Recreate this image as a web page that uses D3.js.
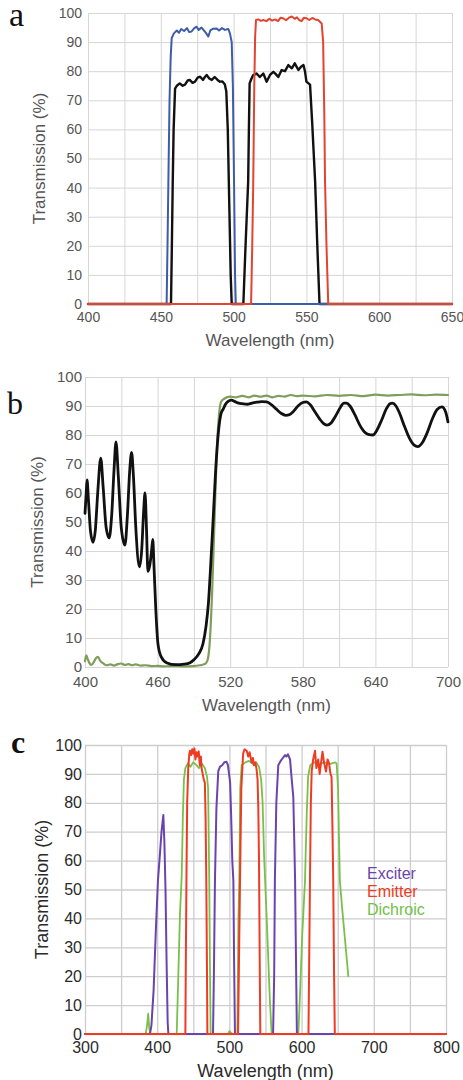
<!DOCTYPE html>
<html>
<head>
<meta charset="utf-8">
<script src="https://cdn.jsdelivr.net/npm/d3@7"></script>
<style>
  body { margin: 0; background: #fff; }
  svg { display: block; }
</style>
</head>
<body>
<div id="chart"></div>
<script>
// ── panel a: single-band filters (wavelength nm, transmission %) ─────────
const aTicksX = [400, 450, 500, 550, 600, 650]
const aGridX  = [400, 425, 450, 475, 500, 525, 550, 575, 600, 625, 650]
const ticksY  = [0, 10, 20, 30, 40, 50, 60, 70, 80, 90, 100]

const aBlue = [[400,0],[454,0],[454.6,20],[455.2,42],[456,70],[456.8,85],[457.5,91.4],[459,93],[461,94],[462.5,93.2],
  [464,94.5],[466,93.8],[468,94.8],[469.5,93.5],[471,93.6],[473,94.8],[474.6,95.3],[476,94.2],[478,95],[480,93.8],
  [481.5,92.8],[482.6,91.9],[484,94],[486,94.6],[488.4,94.7],[490,94],[492,94.8],[494,94.2],[496.4,94.5],[497.5,93],
  [498.7,90],[499.5,75],[500.3,42],[501,10],[501.5,0],[650,0]]
const aBlack = [[400,0],[457,0],[457.6,20],[458.2,42],[458.8,60],[459.8,74],[461,75],[463,75.8],[465,75],[466.6,75.4],
  [468.5,76.8],[470,77],[471.8,76],[473.5,76.4],[475.3,77.8],[477,78.1],[479,77],[480.3,78],[481.5,78.7],[483.3,77.5],
  [485,77],[487,78],[489,77],[490.6,76.4],[492.3,76.5],[494,75.4],[495,73],[496,60],[497,35],[498,10],[498.7,0],
  [506.7,0],[508.2,20],[510,42],[510.5,60],[511,75.8],[512.3,77.5],[513.5,78.7],[515.8,79.2],[518,78],[520.4,79.2],
  [522.7,76.4],[525,78.7],[527.3,79.8],[529,79],[530.7,78],[533,80.4],[535.3,80],[537.6,82.1],[540,81],[542,82.7],
  [544.5,80.4],[546.3,81.5],[548,82.1],[549,80],[550,76.4],[552.5,75.4],[554,62],[556,42],[557.5,20],[559,0],[650,0]]
const aRed = [[400,0],[512,0],[512.8,20],[513.5,42],[514.2,75],[514.8,92],[515.4,97.6],[517,97.8],[518.7,97.3],[520.4,97.6],
  [522.5,97.2],[524.5,98],[526.5,97.4],[528.5,97.8],[530.5,97.2],[532.3,98.4],[534,98.2],[536,97.5],[538,98.4],[540,98.8],
  [542,98],[543.5,98.5],[545,97.6],[546.7,97.2],[548.3,98.4],[550,98.2],[552,97.6],[554,98.3],[556,97.8],[558,97.6],
  [560.5,96.4],[561.5,90],[562.3,65],[562.8,42],[563.8,20],[565,0],[650,0]]

// ── panel b: long-pass dichroic ──────────────────────────────────────────
const bTicksX = [400, 460, 520, 580, 640, 700]
const bGridX  = [400, 430, 460, 490, 520, 550, 580, 610, 640, 670, 700]

const bBlack = [[400,53],[401,60],[401.7,64.5],[402.8,58],[404.5,47],[406.6,43],[408.5,47],[410.5,60],[413,72],[415,62],
  [417.5,48],[420,44.5],[422,52],[424,68],[425.6,77.6],[427.5,66],[430,48],[433,42],[435,52],[437,68],[438.5,74],
  [440,66],[442,48],[445,34.5],[446.8,40],[448.5,54],[449.6,60],[450.8,48],[452,33],[453.5,35],[455,40],[456,44],
  [457,35],[458.5,20],[460.3,8],[463,3.5],[467.8,1.4],[475,0.8],[482,1],[486.8,1.5],[490,2.5],[494,4.5],[497.5,8],
  [500,14],[502,22],[504,36],[505.8,50],[508,68],[510.5,82],[512.5,87.5],[514.3,89],[516,90.5],[518,91.5],[521,92],
  [524,91.5],[527,91],[530,90.8],[534,90.6],[538,91],[542,91.3],[546,91.5],[550,91.4],[554,90.5],[558,89],[562,87.5],
  [566,86.8],[569,87],[572,88],[576,90],[580,91.2],[583,91.4],[586,90.5],[590,88],[594,85.5],[597,84],[600,83.4],
  [603,84],[607,86.5],[611,89.5],[614,91],[616,91],[619,90],[623,87],[627,83.5],[631,81],[634,80.2],[638,80],
  [641,81.5],[645,85],[649,89],[652,90.8],[654,91],[657,90],[660,87.5],[664,83],[668,79],[672,76.5],[675,76],
  [679,77.5],[683,81],[687,85.5],[691,88.8],[695,89.7],[698,88],[700,84.5]]
const bGreen = [[400,2],[401,4],[402,3],[403.5,1.5],[405,0.7],[407,1.5],[409,3],[410.7,3.5],[412.5,2.2],[415,1.3],
  [418,0.6],[421,0.9],[424,0.5],[427,1],[430,1.2],[433,0.7],[436,1],[439,0.6],[442,0.9],[446,0.5],[450,0.6],
  [455,0.3],[460,0.4],[465,0.2],[470,0.3],[480,0.2],[490,0.3],[495,0.6],[499,1],[501,2],[503,8],[505,25],[507,50],
  [509,75],[511,88],[512.5,91.5],[515,92.5],[520,93.2],[525,93],[530,93.5],[535,93],[540,93.6],[545,93.2],[550,93.6],
  [555,93],[560,93.5],[565,93.2],[570,93.8],[575,93.4],[580,93.6],[590,93.3],[600,93.8],[610,93.5],[620,93.8],
  [630,93.4],[640,93.9],[650,93.6],[660,93.8],[670,94],[680,93.7],[690,93.9],[700,93.8]]

// ── panel c: multi-band set ──────────────────────────────────────────────
const cTicksX = [300, 400, 500, 600, 700, 800]
const cGridX  = [300, 350, 400, 450, 500, 550, 600, 650, 700, 750, 800]
const cLegend = ['Exciter', 'Emitter', 'Dichroic']

const cExciter = [[300,0],[390,0],[392,3],[395,15],[398,35],[401,53],[404,63],[406,70],[408.5,75.8],[410,66],[411.5,50],
  [413,25],[414.5,4],[415.5,0],[477.3,0],[478.5,20],[480,53],[482,78],[484.6,91],[487,92.5],[490,93],[493,94],
  [496,94.2],[498,93],[500,89],[501,87],[502.5,75],[504,60],[505.5,53],[506.5,25],[507.7,0],[560.5,0],[562,20],
  [563,53],[565,80],[567.7,93],[571,94.5],[574,95.5],[577,96.5],[579,96],[581,96.8],[584,95],[586,89],[588.5,82],
  [590,65],[591,53],[592.5,20],[593.5,0],[800,0]]
const cEmitter = [[300,0],[439,0],[439.8,30],[440.5,53],[441.5,80],[443,92],[444.5,97],[445.4,98],[447,96.5],[448.5,98.5],
  [450,97],[451.5,98.8],[453,95],[454.5,97.5],[456,96],[457.5,97.8],[459,93],[460.5,96],[461.5,92],[463,90],
  [464.5,88],[466,87],[467,75],[468,53],[469,20],[469.5,0],[512,0],[513.5,30],[514.7,53],[516.5,85],[519,97],
  [521,98.5],[524,98],[526,96],[528,97.5],[530.7,94],[532.5,95.5],[534,93],[536,94],[537.7,91.5],[539,88],
  [540,78.6],[541,60],[542,25],[542.8,0],[609.5,0],[610.5,25],[611.6,53],[612.8,80],[614,91],[616,95],[618.6,98],
  [620.5,92],[623,95],[625,90],[627,94],[629,97.7],[631,94],[633.8,90.8],[636,95],[638,93.7],[640,90],[641.5,89],
  [642.8,70],[643.8,53],[645,20],[646,0],[800,0]]
const cDichroic = [[300,0],[384,0],[386,3],[387.5,7],[389,2],[390.5,0],[427,0],[429,18],[431.6,42],[434,55],[435.5,75],
  [437,88],[439,92],[442.6,93.7],[446,92.5],[450,94],[454.6,93],[458,92],[462,93.5],[466,92],[469,89],[470.5,85],
  [472,55],[473,25],[474,0],[498,0],[500,1],[502,0.5],[504,0],[511,0],[512.5,40],[513.7,53],[515,85],[517,93],
  [522,94],[527,94.5],[532,93.5],[537,94],[541,92.5],[544,88],[546,80],[548,62],[550,50],[552,38],[554,25],
  [556,12],[558.5,0],[595.5,0],[598,15],[601,35],[604.7,53],[607,75],[609,89],[612,93],[618,94],[625,93.5],
  [632,94],[640,93.5],[646,94],[648.5,93.7],[650.5,85],[652,65],[653,53],[656,44],[660,33],[664.7,20]]

const W = 463, H = 1080
const svg = d3.select('#chart').append('svg').attr('width', W).attr('height', H)

function drawPanel(p) {
  const x = d3.scaleLinear().domain(p.xDomain).range([p.left, p.right])
  const y = d3.scaleLinear().domain([0, 100]).range([p.bottom, p.top])
  const g = svg.append('g')
  const ph = p.bottom - p.top, pw = p.right - p.left

  // grid via axes
  g.append('g').attr('transform', `translate(0,${p.bottom})`)
    .call(d3.axisBottom(x).tickValues(p.gridX).tickSize(-ph).tickFormat(''))
    .call(s => s.select('.domain').remove())
    .selectAll('line').attr('stroke', p.gridColor).attr('stroke-width', p.gridWidth)
  g.append('g').attr('transform', `translate(${p.left},0)`)
    .call(d3.axisLeft(y).tickValues(ticksY).tickSize(-pw).tickFormat(''))
    .call(s => s.select('.domain').remove())
    .selectAll('line').attr('stroke', p.gridColor).attr('stroke-width', p.gridWidth)

  // tick labels
  const xa = g.append('g').attr('transform', `translate(0,${p.bottom})`)
    .call(d3.axisBottom(x).tickValues(p.ticksX).tickSize(0).tickPadding(p.padX))
  xa.select('.domain').remove()
  xa.selectAll('text').attr('font-family', p.font).attr('font-size', p.tickSize).attr('fill', p.textColor)

  const ya = g.append('g').attr('transform', `translate(${p.left},0)`)
    .call(d3.axisLeft(y).tickValues(ticksY).tickSize(0).tickPadding(p.padY))
  ya.select('.domain').remove()
  ya.selectAll('text').attr('font-family', p.font).attr('font-size', p.tickSize).attr('fill', p.textColor)

  // titles
  g.append('text').attr('x', (p.left + p.right) / 2).attr('y', p.xTitleY)
    .attr('text-anchor', 'middle').attr('font-family', p.font).attr('font-size', p.titleSize)
    .attr('fill', p.textColor).text('Wavelength (nm)')
  g.append('text').attr('transform', `translate(${p.yTitleX},${(p.top + p.bottom) / 2}) rotate(-90)`)
    .attr('text-anchor', 'middle').attr('dominant-baseline', 'central')
    .attr('font-family', p.font).attr('font-size', p.titleSize)
    .attr('fill', p.textColor).text('Transmission (%)')

  // panel letter
  g.append('text').attr('x', p.letterX).attr('y', p.letterY)
    .attr('font-family', '"Liberation Serif", "DejaVu Serif", serif')
    .attr('font-size', p.letterSize).attr('font-weight', p.letterWeight || 'normal')
    .attr('fill', '#111').text(p.letter)

  // curves
  p.series.forEach(s => {
    const line = d3.line().x(d => x(d[0])).y(d => y(d[1])).curve(s.curve || d3.curveLinear)
    g.append('path').datum(s.data)
      .attr('fill', 'none').attr('stroke', s.color).attr('stroke-width', s.width)
      .attr('stroke-linejoin', 'round').attr('stroke-linecap', 'round')
      .attr('d', line)
  })
  return { g, x, y }
}

const sans = '"Liberation Sans", Arial, sans-serif'

drawPanel({
  letter: 'a', letterX: 9, letterY: 26, letterSize: 34,
  xDomain: [400, 650], left: 88, right: 452, top: 13, bottom: 304,
  gridX: aGridX, ticksX: aTicksX, gridColor: '#d6d6d6', gridWidth: 1,
  font: sans, tickSize: 14, titleSize: 17, textColor: '#555',
  padX: 8, padY: 6, xTitleY: 346, yTitleX: 39,
  series: [
    { data: aBlack, color: '#111', width: 2.4 },
    { data: aBlue, color: '#3d5da6', width: 2 },
    { data: aRed, color: '#e2452f', width: 2 },
  ],
})

drawPanel({
  letter: 'b', letterX: 7, letterY: 414, letterSize: 32,
  xDomain: [400, 700], left: 85, right: 448, top: 377, bottom: 667,
  gridX: bGridX, ticksX: bTicksX, gridColor: '#d6d6d6', gridWidth: 1,
  font: sans, tickSize: 15, titleSize: 17, textColor: '#555',
  padX: 9, padY: 3, xTitleY: 711, yTitleX: 37,
  series: [
    { data: bGreen, color: '#7f9e5c', width: 2.2, curve: d3.curveMonotoneX },
    { data: bBlack, color: '#111', width: 2.8, curve: d3.curveMonotoneX },
  ],
})

const c = drawPanel({
  letter: 'c', letterX: 11, letterY: 753, letterSize: 32, letterWeight: 'bold',
  xDomain: [300, 800], left: 85, right: 446, top: 745, bottom: 1034,
  gridX: cGridX, ticksX: cTicksX, gridColor: '#cdcdcd', gridWidth: 1.3,
  font: sans, tickSize: 16, titleSize: 18, textColor: '#2a2a2a',
  padX: 8, padY: 3, xTitleY: 1077, yTitleX: 42,
  series: [
    { data: cDichroic, color: '#78c04a', width: 1.8 },
    { data: cExciter, color: '#6a44ad', width: 2 },
    { data: cEmitter, color: '#ef3b24', width: 2 },
  ],
})

// legend for panel c
const legendColors = ['#6a44ad', '#ef3b24', '#72bf47']
c.g.selectAll('.legend').data(cLegend).join('text')
  .attr('class', 'legend')
  .attr('x', 367).attr('y', (d, i) => 879 + i * 18)
  .attr('font-family', sans).attr('font-size', 16)
  .attr('fill', (d, i) => legendColors[i]).text(d => d)
</script>
</body>
</html>
